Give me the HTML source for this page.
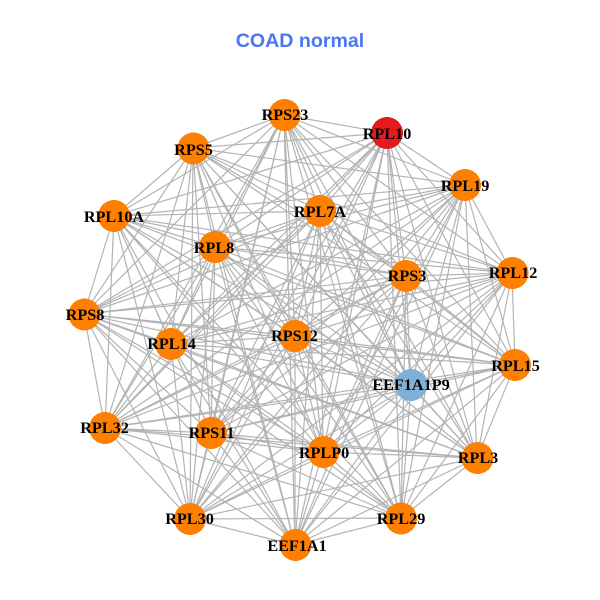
<!DOCTYPE html>
<html><head><meta charset="utf-8"><style>
html,body{margin:0;padding:0;background:#fff}
svg{display:block}
.n{font:bold 16.2px "Liberation Serif",serif;text-anchor:middle;fill:#000}
</style></head><body>
<svg width="600" height="600" viewBox="0 0 600 600" xmlns="http://www.w3.org/2000/svg">
<rect width="600" height="600" fill="#fff"/>
<text x="300" y="47" text-anchor="middle" style="font:bold 19.6px 'Liberation Sans',sans-serif" fill="#4a76f5">COAD normal</text>
<g fill="none" stroke="#b3b3b3" stroke-width="1.2">
<path d="M284 115L387 133M284 115L193 148M284 115L465 185M284 115L320 211M284 115L114 216M284 115L215 247M284 115L406 276M284 115L512 273M284 115L84 314M284 115L171 344M284 115L295 336M284 115L515 365M284 115L411 385M284 115L105 428M284 115L211 433M284 115L323 452M284 115L477 458M284 115L190 519M284 115L401 518M284 115L295 545"/>
<path d="M387 133L193 148M387 133L465 185M387 133L320 211M387 133L114 216M387 133L215 247M387 133L406 276M387 133L512 273M387 133L84 314M387 133L171 344M387 133L295 336M387 133L515 365M387 133L411 385M387 133L105 428M387 133L211 433M387 133L323 452M387 133L477 458M387 133L190 519M387 133L401 518M387 133L295 545"/>
<path d="M193 148L465 185M193 148L320 211M193 148L114 216M193 148L215 247M193 148L406 276M193 148L512 273M193 148L84 314M193 148L171 344M193 148L295 336M193 148L515 365M193 148L411 385M193 148L105 428M193 148L211 433M193 148L323 452M193 148L477 458M193 148L190 519M193 148L401 518M193 148L295 545"/>
<path d="M465 185L320 211M465 185L114 216M465 185L215 247M465 185L406 276M465 185L512 273M465 185L84 314M465 185L171 344M465 185L295 336M465 185L515 365M465 185L411 385M465 185L105 428M465 185L211 433M465 185L323 452M465 185L477 458M465 185L190 519M465 185L401 518M465 185L295 545"/>
<path d="M320 211L114 216M320 211L215 247M320 211L406 276M320 211L512 273M320 211L84 314M320 211L171 344M320 211L295 336M320 211L515 365M320 211L411 385M320 211L105 428M320 211L211 433M320 211L323 452M320 211L477 458M320 211L190 519M320 211L401 518M320 211L295 545"/>
<path d="M114 216L215 247M114 216L406 276M114 216L512 273M114 216L84 314M114 216L171 344M114 216L295 336M114 216L515 365M114 216L411 385M114 216L105 428M114 216L211 433M114 216L323 452M114 216L477 458M114 216L190 519M114 216L401 518M114 216L295 545"/>
<path d="M215 247L406 276M215 247L512 273M215 247L84 314M215 247L171 344M215 247L295 336M215 247L515 365M215 247L411 385M215 247L105 428M215 247L211 433M215 247L323 452M215 247L477 458M215 247L190 519M215 247L401 518M215 247L295 545"/>
<path d="M406 276L512 273M406 276L84 314M406 276L171 344M406 276L295 336M406 276L515 365M406 276L411 385M406 276L105 428M406 276L211 433M406 276L323 452M406 276L477 458M406 276L190 519M406 276L401 518M406 276L295 545"/>
<path d="M512 273L84 314M512 273L171 344M512 273L295 336M512 273L515 365M512 273L411 385M512 273L105 428M512 273L211 433M512 273L323 452M512 273L477 458M512 273L190 519M512 273L401 518M512 273L295 545"/>
<path d="M84 314L171 344M84 314L295 336M84 314L515 365M84 314L411 385M84 314L105 428M84 314L211 433M84 314L323 452M84 314L477 458M84 314L190 519M84 314L401 518M84 314L295 545"/>
<path d="M171 344L295 336M171 344L515 365M171 344L411 385M171 344L105 428M171 344L211 433M171 344L323 452M171 344L477 458M171 344L190 519M171 344L401 518M171 344L295 545"/>
<path d="M295 336L515 365M295 336L411 385M295 336L105 428M295 336L211 433M295 336L323 452M295 336L477 458M295 336L190 519M295 336L401 518M295 336L295 545"/>
<path d="M515 365L411 385M515 365L105 428M515 365L211 433M515 365L323 452M515 365L477 458M515 365L190 519M515 365L401 518M515 365L295 545"/>
<path d="M411 385L105 428M411 385L211 433M411 385L323 452M411 385L477 458M411 385L190 519M411 385L401 518M411 385L295 545"/>
<path d="M105 428L211 433M105 428L323 452M105 428L477 458M105 428L190 519M105 428L401 518M105 428L295 545"/>
<path d="M211 433L323 452M211 433L477 458M211 433L190 519M211 433L401 518M211 433L295 545"/>
<path d="M323 452L477 458M323 452L190 519M323 452L401 518M323 452L295 545"/>
<path d="M477 458L190 519M477 458L401 518M477 458L295 545"/>
<path d="M190 519L401 518M190 519L295 545"/>
<path d="M401 518L295 545"/>
</g>
<g fill="#ff7f00" shape-rendering="crispEdges">
<circle cx="284.5" cy="115" r="16"/>
<circle cx="387" cy="133" r="16" fill="#e41a1c"/>
<circle cx="193.5" cy="148.5" r="16"/>
<circle cx="465" cy="185" r="16"/>
<circle cx="320" cy="211" r="16"/>
<circle cx="114" cy="216" r="16"/>
<circle cx="215" cy="247" r="16"/>
<circle cx="406" cy="276" r="16"/>
<circle cx="512.5" cy="273" r="16"/>
<circle cx="84.5" cy="314.5" r="16"/>
<circle cx="171" cy="344" r="16"/>
<circle cx="295" cy="336" r="16"/>
<circle cx="515" cy="365" r="16"/>
<circle cx="411" cy="385" r="16" fill="#7fb0d5"/>
<circle cx="105" cy="428" r="16"/>
<circle cx="211" cy="433" r="16"/>
<circle cx="323.5" cy="452" r="16"/>
<circle cx="477.5" cy="458" r="16"/>
<circle cx="190" cy="519" r="16"/>
<circle cx="401" cy="518.5" r="16"/>
<circle cx="295.5" cy="545" r="16"/>
</g>
<g class="l">
<text class="n" x="285" y="120">RPS23</text>
<text class="n" x="387" y="139">RPL10</text>
<text class="n" x="193.5" y="155">RPS5</text>
<text class="n" x="465" y="191">RPL19</text>
<text class="n" x="320" y="217">RPL7A</text>
<text class="n" x="114" y="222">RPL10A</text>
<text class="n" x="214" y="253">RPL8</text>
<text class="n" x="407" y="281">RPS3</text>
<text class="n" x="513" y="278">RPL12</text>
<text class="n" x="85" y="320">RPS8</text>
<text class="n" x="171.5" y="349">RPL14</text>
<text class="n" x="294.5" y="341">RPS12</text>
<text class="n" x="515.5" y="371">RPL15</text>
<text class="n" x="411" y="390">EEF1A1P9</text>
<text class="n" x="104.5" y="433">RPL32</text>
<text class="n" x="211.5" y="438">RPS11</text>
<text class="n" x="324" y="458">RPLP0</text>
<text class="n" x="478" y="463">RPL3</text>
<text class="n" x="189.5" y="524">RPL30</text>
<text class="n" x="401" y="524">RPL29</text>
<text class="n" x="297" y="551">EEF1A1</text>
</g>
</svg>
</body></html>
